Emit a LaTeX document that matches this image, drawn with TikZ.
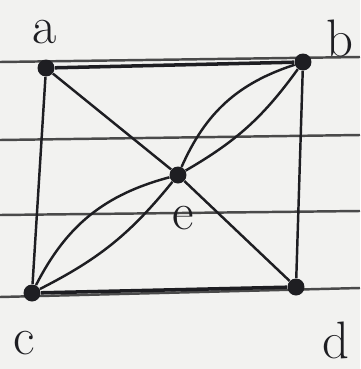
\documentclass[tikz,border=0pt]{standalone}
\usepackage{xcolor}
\usetikzlibrary{positioning}
\definecolor{paper}{HTML}{F2F2F0}
\definecolor{ink}{HTML}{1E1E22}
\definecolor{rule}{HTML}{4A4A4A}
\tikzset{
  vertex/.style   = {circle, fill=ink, inner sep=0pt, minimum size=3.4mm},
  edge/.style     = {draw=ink, line width=1.4pt},
  edgebold/.style = {edge, line width=2pt},
  ruling/.style   = {draw=rule, line width=1.4pt},
  tag/.style      = {font=\fontsize{30}{30}\selectfont, text=ink},
}
\begin{document}
\begin{tikzpicture}[x=0.02cm, y=-0.02cm]
  \fill[paper] (0,0) rectangle (360,369);
  \useasboundingbox (0,0) rectangle (360,369);

  % ruled paper
  \draw[ruling] (0,62) -- (360,57);
  \draw[ruling] (0,140) -- (360,135);
  \draw[ruling] (0,215) -- (360,211);
  \draw[ruling] (0,297) -- (360,288);

  \node[vertex] (a) at (46,68) {};
  \node[vertex] (b) at (303,62) {};
  \node[vertex] (e) at (178,175) {};
  \node[vertex] (c) at (32,293) {};
  \node[vertex] (d) at (296,287) {};

  \node[tag] (la) at (45,32) {a};
  \node[tag] (lb) at (340,38) {b};
  \node[tag] (le) at (183,218) {e};
  \node[tag] (lc) at (24,343) {c};
  \node[tag] (ld) at (336,340) {d};

  \draw[edgebold] (a) -- (b);
  \draw[edgebold] (c) -- (d);
  \draw[edge] (a) -- (c);
  \draw[edge] (b) -- (d);
  \draw[edge] (a) -- (e);
  \draw[edge] (e) -- (d);
  \draw[edge] (b) to[bend right=24] (e);
  \draw[edge] (b) to[bend left=12] (e);
  \draw[edge] (e) to[bend right=24] (c);
  \draw[edge] (e) to[bend left=12] (c);
\end{tikzpicture}
\end{document}
